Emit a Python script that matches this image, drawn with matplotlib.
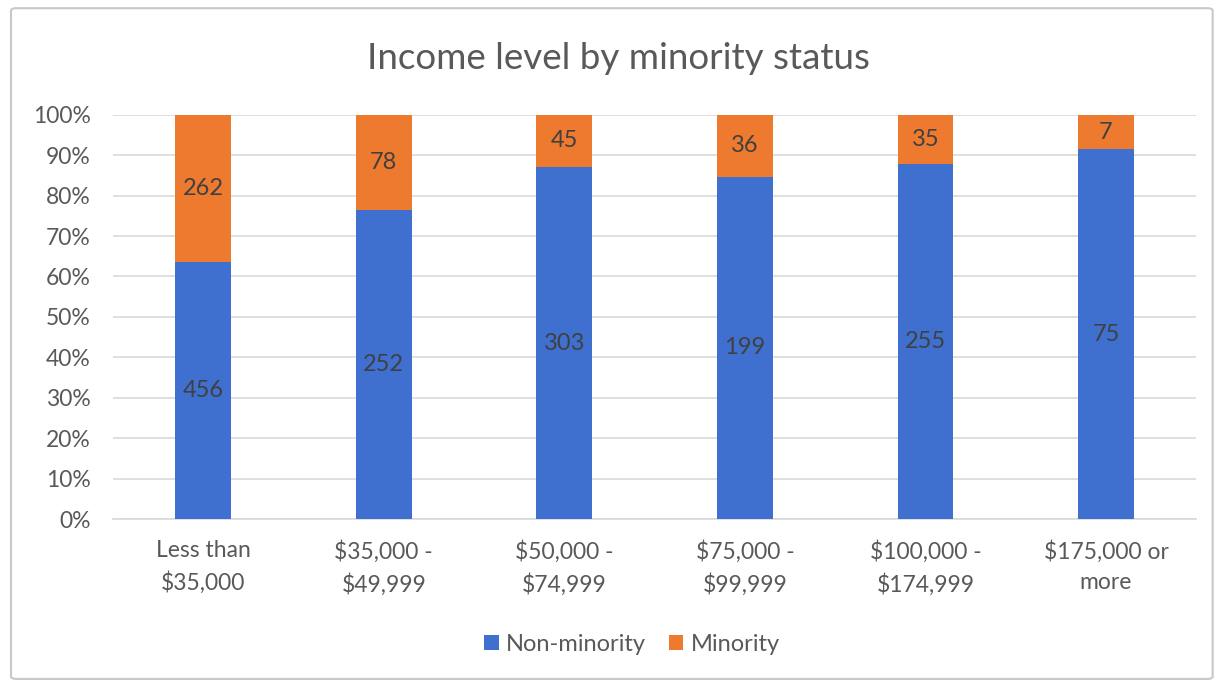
import matplotlib.pyplot as plt
from matplotlib.patches import FancyBboxPatch
from matplotlib.ticker import PercentFormatter

categories = ["Less than\n$35,000", "$35,000 -\n$49,999", "$50,000 -\n$74,999",
              "$75,000 -\n$99,999", "$100,000 -\n$174,999", "$175,000 or\nmore"]
non_minority = [456, 252, 303, 199, 255, 75]
minority = [262, 78, 45, 36, 35, 7]
series_names = ["Non-minority", "Minority"]

blue = "#3F6FCF"
orange = "#EE7A30"
text_grey = "#595959"

plt.rcParams['font.family'] = ['Lato', 'DejaVu Sans']

fig = plt.figure(figsize=(12.2, 6.83), dpi=100)
fig.patches.append(FancyBboxPatch((0.009, 0.006), 0.985, 0.982, boxstyle="round,pad=0,rounding_size=0.004",
                                  transform=fig.transFigure, fill=False, edgecolor="#C8C8C8", linewidth=1.5))

ax = fig.add_axes([0.0926, 0.240, 0.888, 0.592])

totals = [a + b for a, b in zip(non_minority, minority)]
share_non = [a / t * 100 for a, t in zip(non_minority, totals)]
share_min = [b / t * 100 for b, t in zip(minority, totals)]
x = range(len(categories))
width = 0.31

b1 = ax.bar(x, share_non, width, color=blue, label=series_names[0], zorder=3)
b2 = ax.bar(x, share_min, width, bottom=share_non, color=orange, label=series_names[1], zorder=3)

ax.bar_label(b1, labels=[str(v) for v in non_minority], label_type='center',
             fontsize=17, color="#404040")
ax.bar_label(b2, labels=[str(v) for v in minority], label_type='center',
             fontsize=17, color="#404040")

ax.set_xlim(-0.5, len(categories) - 0.5)
ax.set_ylim(0, 100)
ax.set_yticks(range(0, 101, 10))
ax.yaxis.set_major_formatter(PercentFormatter(decimals=0))
ax.set_xticks(list(x))
ax.set_xticklabels(categories, fontsize=16.5, color=text_grey, linespacing=1.55)
ax.tick_params(axis='y', labelsize=16.5, labelcolor=text_grey, length=0, pad=16)
ax.tick_params(axis='x', length=0, pad=15)
ax.grid(axis='y', color="#D9D9D9", linewidth=1.2, zorder=0)
for side in ["top", "right", "left"]:
    ax.spines[side].set_visible(False)
ax.spines["bottom"].set_color("#D9D9D9")
ax.spines["bottom"].set_linewidth(1.2)

fig.text(0.507, 0.914, "Income level by minority status", ha='center', va='center',
         fontsize=26.5, color=text_grey)

fig.legend(handles=[b1, b2], labels=series_names, loc='center', bbox_to_anchor=(0.518, 0.056),
           ncol=2, frameon=False, fontsize=17, labelcolor=text_grey,
           handlelength=0.6, handleheight=0.6, handletextpad=0.3, columnspacing=1.0)

fig.savefig("out.png", dpi=100, facecolor="white")
